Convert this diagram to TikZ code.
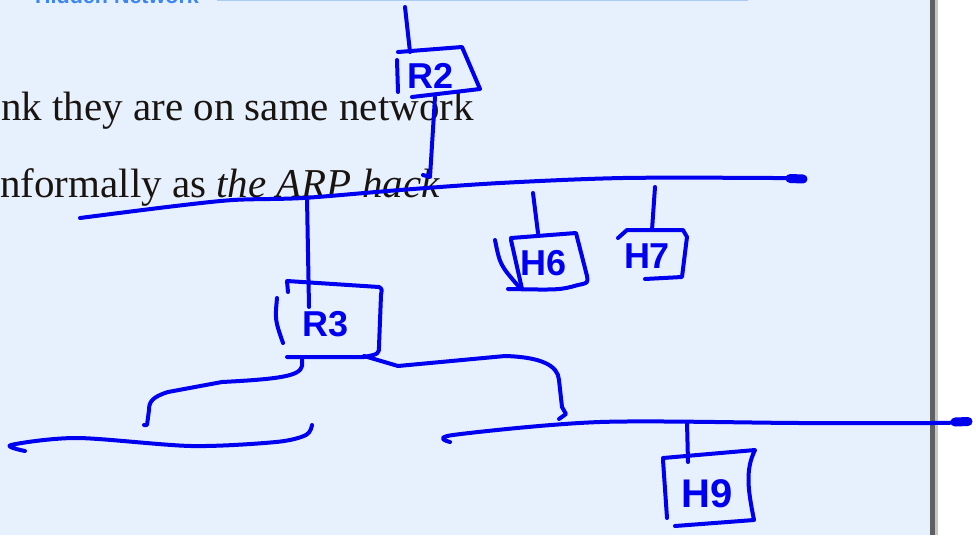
\documentclass[tikz,border=0pt]{standalone}
\usepackage{fontspec}
\setmainfont{Liberation Serif}
\setsansfont{Liberation Sans}
\definecolor{panel}{HTML}{E7F1FE}
\definecolor{inkblue}{HTML}{0000F0}
\definecolor{titleblue}{HTML}{3B86F2}
\definecolor{rule}{HTML}{A9CBF5}
\definecolor{bodytext}{HTML}{1A1410}
\begin{document}
\begin{tikzpicture}[x=1pt,y=-1pt,
  ink/.style={draw=inkblue, line width=4pt, line cap=round, line join=round},
  blob/.style={draw=inkblue, line width=9pt, line cap=round},
  lbl/.style={text=inkblue, inner sep=0pt, font=\sffamily\bfseries\fontsize{36}{36}\selectfont},
  body/.style={text=bodytext, inner sep=0pt, anchor=base west, font=\fontsize{41}{41}\selectfont}]
\useasboundingbox (0,0) rectangle (976,535);
\clip (0,0) rectangle (976,535);
% background
\fill[white] (0,0) rectangle (976,535);
\fill[panel] (0,0) rectangle (930,535);
\fill[gray!75!black] (930,0) rectangle (935,535);
\fill[gray!45] (935,0) rectangle (937.5,535);
% title and rule
\node[anchor=base west, inner sep=0pt, text=titleblue, font=\sffamily\bfseries\fontsize{21.5}{21.5}\selectfont] (title) at (35,4) {Hidden Network};
\fill[rule] (217,-1) rectangle (748,1.5);
% body text
\node[body] (t1) at (1,120) {nk they are on same network};
\node[body] (t2) at (0,197) {nformally as \textit{the ARP hack}};
% labels
\node[lbl] (r2) at (431,76) {R2};
\node[lbl] (r3) at (326,324) {R3};
\node[lbl] (h6) at (544,263) {H6};
\node[lbl] (h7) at (647,256) {H7};
\node[lbl, font=\sffamily\bfseries\fontsize{40}{40}\selectfont] (h9) at (707,494) {H9};
% key coordinates
\coordinate (r2up) at (405,7);
\coordinate (r2top) at (410,52);
\coordinate (r2bot) at (435,97);
\coordinate (n1r2) at (430,177);
\coordinate (n1r3) at (307,198);
\coordinate (r3in) at (309,307);
\coordinate (r3bl) at (302,357);
\coordinate (r3br) at (364,356);
\coordinate (nlA) at (147,425);
\coordinate (nrA) at (562,407);
\coordinate (n1h6) at (533,193);
\coordinate (h6top) at (538,233);
\coordinate (n1h7) at (655,187);
\coordinate (h7top) at (652,230);
\coordinate (n3h9) at (687,422);
\coordinate (h9top) at (688,462);
% R2
\draw[ink] (r2up) -- (r2top);
\draw[ink] (398,52) -- (462,47) -- (480,89) -- (412,97);
\draw[ink] (397,60) -- (398,92);
\draw[ink] (r2bot) -- (n1r2) -- (423,175);
% network 1
\draw[ink] plot[smooth] coordinates {(80,218) (167,207) (233,200) (303,198) (400,190) (500,183) (623,178) (773,178) (800,179)};
\draw[blob] (790,178.5) -- (803,179);
\draw[ink] (n1r3) -- (r3in);
% R3
\draw[ink] (288,292) -- (287,281) -- (379,287) .. controls (382,289) .. (381,295) -- (379,346) .. controls (379,354) .. (364,357) -- (287,357);
\draw[ink] (277,298) .. controls (275,320) .. (283,343);
% R3 to left network
\draw[ink] (r3bl) -- (302,366) .. controls (300,376) and (280,379) .. (222,382) -- (168,392) .. controls (152,397) and (149,402) .. (149,410) -- (nlA) -- (144,425);
\draw[ink] plot[smooth] coordinates {(25,451) (11,445) (77,438) (191,446) (276,442) (306,435) (312,425)};
% R3 to right network
\draw[ink] (r3br) -- (398,366) -- (505,356) .. controls (540,357) and (558,365) .. (559,380) -- (nrA) -- (566,414) -- (559,419);
\draw[ink] plot[smooth] coordinates {(450,442) (453,435) (600,422) (800,423) (933,423) (968,422)};
\draw[blob] (955,422) -- (968,421.5);
% H6
\draw[ink] (n1h6) -- (h6top);
\draw[ink] (511,238) -- (576,233) -- (587,276) .. controls (588,283) .. (578,285) .. controls (560,290) .. (508,289);
\draw[ink] (511,240) -- (522,289);
\draw[ink] (495,240) .. controls (500,265) .. (520,288);
% H7
\draw[ink] (n1h7) -- (h7top);
\draw[ink] (618,238) -- (627,230) -- (683,230) -- (687,237) -- (682,277) -- (645,279);
% H9
\draw[ink] (n3h9) -- (h9top);
\draw[ink] (663,458) -- (755,450) .. controls (745,470) and (748,490) .. (754,520) -- (675,526);
\draw[ink] (663,460) -- (667,518);
\end{tikzpicture}
\end{document}
